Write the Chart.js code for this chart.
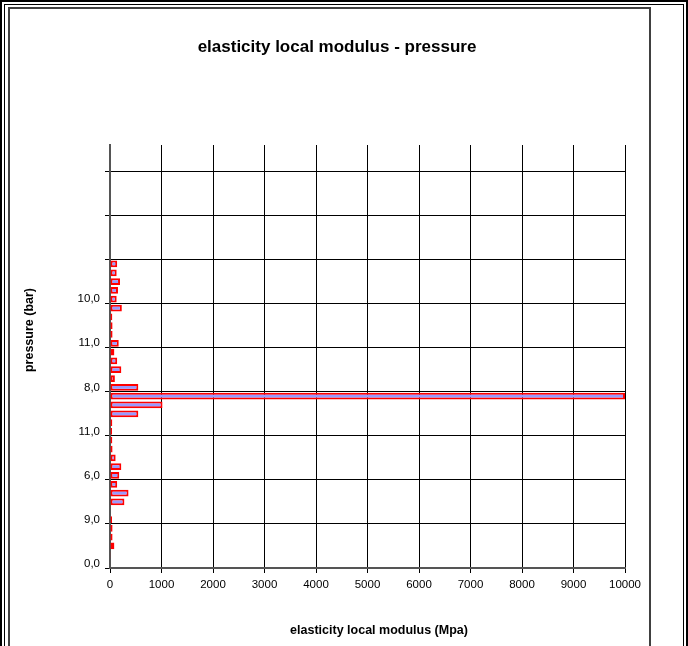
<!DOCTYPE html>
<html>
<head>
    <title>elasticity local modulus - pressure</title>
    <script src="https://cdn.jsdelivr.net/npm/chart.js"></script>
    <style>
        body {
            margin: 0;
            padding: 0;
            background: #fff;
        }
        #wrap {
            position: relative;
            width: 688px;
            height: 646px;
            overflow: hidden;
        }
        #chart {
            position: absolute;
            left: 0;
            top: 0;
        }
        /* frames round the chart, like the sheet border */
        .frame {
            position: absolute;
            box-sizing: border-box;
            pointer-events: none;
        }
        #f1 { left: 0; top: 0; width: 688px; height: 700px; border: 2px solid #000; border-bottom: none; }
        #f2 { left: 4px; top: 4px; width: 680px; height: 700px; border: 1px solid #000; border-bottom: none; }
        #f3 { left: 8px; top: 7px; width: 643px; height: 700px; border: 2px solid #404040; border-bottom: none; }
    </style>
</head>
<body>
<div id="wrap">
    <canvas id="chart" width="688" height="646"></canvas>
    <div class="frame" id="f1"></div>
    <div class="frame" id="f2"></div>
    <div class="frame" id="f3"></div>
</div>

<script>
    // labels shown on the pressure axis, one every 5 categories (bottom to top)
    var pressureTicks = ['0,0', '9,0', '6,0', '11,0', '8,0', '11,0', '10,0', '', '', ''];
    var nCategories = 48;

    // elasticity local modulus (Mpa), bottom category first
    var modulus = [
        null, 15, 85, 50, 50, 40, null, 280, 360, 140,
        180, 220, 110, 50, 45, 40, 45, 550, 1020, 10000,
        550, 95, 220, 140, 85, 170, 50, 50, 45, 230,
        130, 155, 195, 130, 140
    ];

    var xTicks = [0, 1000, 2000, 3000, 4000, 5000, 6000, 7000, 8000, 9000, 10000];

    var categories = [];
    for (var i = 0; i < nCategories; i++) {
        categories.push(i % 5 === 0 ? pressureTicks[i / 5] : '');
    }

    var font = "Arial, 'Liberation Sans', sans-serif";
    Chart.defaults.font.family = font;
    Chart.defaults.color = '#000';

    function everyFifth(ctx) {
        return ctx.index % 5 === 0 ? '#000' : 'rgba(0,0,0,0)';
    }

    // chart and axis titles, placed where the sheet has them
    var titles = {
        id: 'titles',
        afterDraw: function (chart) {
            var ctx = chart.ctx;
            ctx.save();
            ctx.fillStyle = '#000';
            ctx.textAlign = 'center';
            ctx.textBaseline = 'middle';

            ctx.font = 'bold 17px ' + font;
            ctx.fillText('elasticity local modulus - pressure', 337, 47);

            ctx.font = 'bold 12.5px ' + font;
            ctx.fillText('elasticity local modulus (Mpa)', 379, 631);

            ctx.translate(30, 330);
            ctx.rotate(-Math.PI / 2);
            ctx.fillText('pressure (bar)', 0, 0);
            ctx.restore();
        }
    };

    var chart = new Chart(document.getElementById('chart'), {
        type: 'bar',
        data: {
            labels: categories,
            datasets: [{
                label: 'modulus',
                data: modulus,
                backgroundColor: '#9999ff',
                borderColor: '#ff0000',
                borderWidth: 2,
                borderSkipped: false,
                categoryPercentage: 1,
                barPercentage: 0.76
            }]
        },
        options: {
            indexAxis: 'y',
            responsive: false,
            devicePixelRatio: 1,
            animation: false,
            layout: { padding: { left: 0, right: 63, top: 145, bottom: 0 } },
            plugins: {
                legend: { display: false },
                tooltip: { enabled: false },
                title: { display: false }
            },
            scales: {
                x: {
                    min: 0,
                    max: 10000,
                    afterBuildTicks: function (scale) {
                        scale.ticks = xTicks.map(function (v) { return { value: v }; });
                    },
                    afterFit: function (scale) { scale.height = 78; },
                    grid: { color: '#000', lineWidth: 1, tickLength: 5 },
                    border: { display: true, color: '#555', width: 2 },
                    ticks: {
                        font: { size: 11.5 },
                        padding: 5,
                        maxRotation: 0,
                        callback: function (v) { return String(v); }
                    }
                },
                y: {
                    reverse: true,
                    afterFit: function (scale) { scale.width = 110; },
                    grid: { color: everyFifth, tickColor: everyFifth, lineWidth: 1, tickLength: 5 },
                    border: { display: true, color: '#555', width: 2 },
                    ticks: { font: { size: 11.5 }, padding: 5, autoSkip: false }
                }
            }
        },
        plugins: [titles]
    });
</script>
</body>
</html>
